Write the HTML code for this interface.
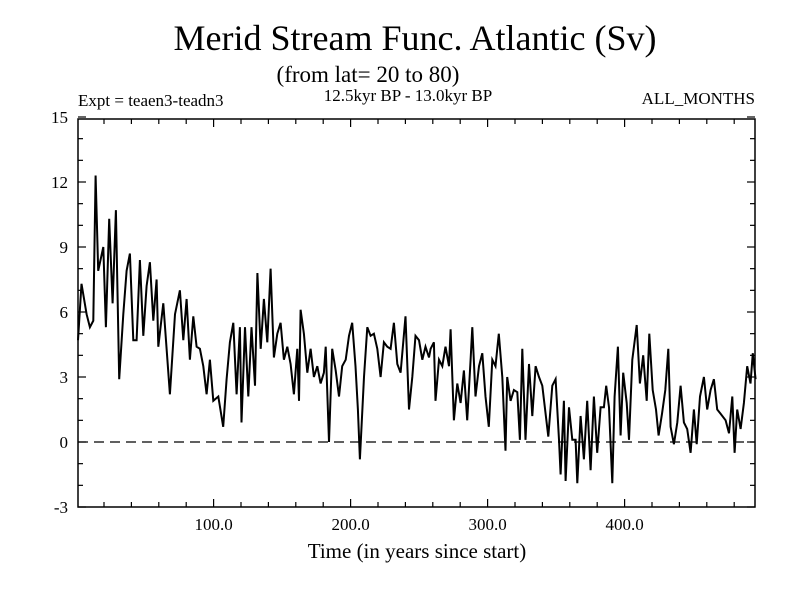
<!DOCTYPE html>
<html><head><meta charset="utf-8"><style>
html,body{margin:0;padding:0;background:#fff;}
svg{display:block;font-family:"Liberation Serif",serif;}
</style></head><body>
<svg id="chart" width="800" height="600" viewBox="0 0 800 600" xmlns="http://www.w3.org/2000/svg">
<rect width="800" height="600" fill="#fff"/>
<text x="415" y="50" font-size="36" text-anchor="middle">Merid Stream Func. Atlantic (Sv)</text>
<text x="368" y="82" font-size="23" text-anchor="middle">(from lat= 20 to 80)</text>
<text x="78" y="106" font-size="17">Expt = teaen3-teadn3</text>
<text x="408" y="101" font-size="17" text-anchor="middle">12.5kyr BP - 13.0kyr BP</text>
<text x="755" y="104" font-size="17" text-anchor="end">ALL_MONTHS</text>
<text x="417" y="558" font-size="21" text-anchor="middle">Time (in years since start)</text>
<g id="axes"></g>
<g id="series"></g>
</svg>
<script>
const yTickValues = [-3, 0, 3, 6, 9, 12, 15];
const xTickValues = [100, 200, 300, 400];
const xTickLabels = ["100.0", "200.0", "300.0", "400.0"];
const years = [1,3.6,7.3,9.7,12.2,13.9,15.8,19.5,21.4,23.8,26.3,28.7,31.1,34.1,36.5,38.9,41.4,43.8,46.2,48.7,51.1,53.5,56,58.4,59.6,63.3,65.7,68.1,71.8,75.4,77.9,80.3,82.7,85.2,87.6,90,92.5,94.9,97.3,99.8,103.4,107,109.5,111.9,114.4,116.8,119.2,120.4,122.9,125.3,127.7,130.2,132,134.4,136.7,139.2,141.6,144,146.5,148.9,151.3,153.8,156.2,158.6,161.1,162.3,163.5,165.9,168.4,170.8,173.2,175.7,178.1,180.5,181.8,184.2,186.6,189.1,191.5,193.9,196.4,198.8,201.2,203.6,205.3,206.8,209.8,212.2,214.6,217,219.5,221.9,224.3,226.8,229.2,231.6,234.1,236.5,240.1,242.6,245,247.4,249.9,252.3,254.7,257.2,258.4,260.8,262,264.5,266.9,269.3,271.8,273,275.4,277.9,280.3,282.7,285.1,287.6,288.8,291.2,293.7,296.1,298.5,300.9,303.4,305.8,308.2,310.7,313.1,314.3,316.8,319.2,321.7,323.6,325.3,327.7,330.2,332.6,335,337.5,339.9,342.3,344.3,347.2,349.6,352.1,353.3,355.7,356.9,359.4,361.8,364.2,365.5,367.9,370.3,372.7,375.2,377.6,380,382.5,384.9,386.6,388.6,391,392.7,395.1,397.1,399,401.5,403.2,405.6,408.8,411.2,413.6,416.1,418,420.5,422.9,424.8,427.3,429.7,431.9,433.6,436,438.5,440.9,443.3,445.7,448.2,450.6,452.6,455,457.9,460.3,462.8,465.2,467.6,470.1,473.7,476.2,478.6,480.3,482.2,484.7,487.1,489.5,491.9,493.6,495.6];
const streamValues = [4.7,7.3,5.9,5.3,5.6,12.3,7.9,9.0,5.3,10.3,6.4,10.7,2.9,5.9,7.9,8.7,4.7,4.7,8.4,4.9,7.2,8.3,5.6,7.5,4.4,6.4,4.3,2.2,5.9,7.0,4.7,6.6,3.8,5.8,4.4,4.3,3.5,2.2,3.8,1.9,2.1,0.7,2.9,4.6,5.5,2.2,5.3,0.9,5.3,2.1,5.3,2.6,7.8,4.3,6.6,4.6,8.0,3.9,5.0,5.5,3.8,4.4,3.6,2.2,4.3,1.9,6.1,5.0,3.2,4.3,3.0,3.5,2.7,3.2,4.4,0.0,4.3,3.3,2.1,3.5,3.8,4.9,5.5,3.5,1.5,-0.8,3.0,5.3,4.9,5.0,4.3,3.0,4.6,4.4,4.3,5.5,3.6,3.2,5.8,1.5,3.0,4.9,4.7,3.8,4.4,3.9,4.3,4.6,1.9,3.8,3.5,4.4,3.5,5.2,1.0,2.7,1.8,3.3,1.0,3.8,5.3,2.1,3.5,4.1,2.1,0.7,3.8,3.5,5.0,3.0,-0.4,3.0,1.9,2.4,2.3,0.1,4.3,0.1,3.6,1.2,3.5,3.0,2.6,1.3,0.25,2.6,2.9,0.1,-1.5,1.9,-1.8,1.6,0.1,0.1,-1.9,1.2,-0.8,1.9,-1.3,2.1,-0.5,1.6,1.6,2.6,1.6,-1.9,2.1,4.4,0.3,3.2,1.8,0.1,3.8,5.4,2.7,4.0,1.9,5.0,2.4,1.5,0.3,1.3,2.4,4.3,0.7,-0.1,0.9,2.6,0.9,0.6,-0.5,1.5,-0.1,2.1,3.0,1.5,2.4,2.9,1.5,1.3,1.0,0.4,2.1,-0.5,1.5,0.6,1.8,3.5,2.7,4.1,2.9];

const L=78,R=755,T=119,B=507;
const X0=76.6,XS=1.37;
const xScale = v => X0 + v*XS;
const yScale = v => 442 - v*(65/3);
const NS="http://www.w3.org/2000/svg";
function mk(tag, attrs, parent){const e=document.createElementNS(NS,tag);for(const k in attrs)e.setAttribute(k,attrs[k]);parent.appendChild(e);return e;}
const axes=document.getElementById('axes');
const series=document.getElementById('series');

const frame=mk('rect',{x:L,y:T,width:R-L,height:B-T,fill:'none',stroke:'#000','stroke-width':1.5},axes);



// y ticks
for(let v=-3; v<=15; v+=1){
  const y=yScale(v); const major=(v%3===0); const len=major?8:5;
  const t1=mk('line',{x1:L,x2:L+len,y1:y,y2:y,stroke:'#000','stroke-width':1.2},axes);
  
  
  const t2=mk('line',{x1:R,x2:R-len,y1:y,y2:y,stroke:'#000','stroke-width':1.2},axes);
  
  
}
yTickValues.forEach(v=>{
  const t=mk('text',{x:68,y:yScale(v)+6,'font-size':17,'text-anchor':'end'},axes);
  t.textContent=String(v);
  
  
});
// x ticks
for(let v=20; v<=480; v+=20){
  const x=xScale(v); const major=(v%100===0); const len=major?8:5;
  const t1=mk('line',{x1:x,x2:x,y1:B,y2:B-len,stroke:'#000','stroke-width':1.2},axes);
  
  
  const t2=mk('line',{x1:x,x2:x,y1:T,y2:T+len,stroke:'#000','stroke-width':1.2},axes);
  
  
}
xTickValues.forEach((v,i)=>{
  const t=mk('text',{x:xScale(v),y:530,'font-size':17,'text-anchor':'middle'},axes);
  t.textContent=xTickLabels[i];
  
  
});
// zero line
const z=mk('line',{x1:L,x2:R,y1:yScale(0),y2:yScale(0),stroke:'#000','stroke-width':1.2,'stroke-dasharray':'10,6'},axes);



// series
let d='';
years.forEach((yr,i)=>{d+=(i?'L':'M')+xScale(yr).toFixed(1)+','+yScale(streamValues[i]).toFixed(1);});
const p=mk('path',{d:d,fill:'none',stroke:'#000','stroke-width':2,'stroke-linejoin':'miter'},series);


</script>
</body></html>
